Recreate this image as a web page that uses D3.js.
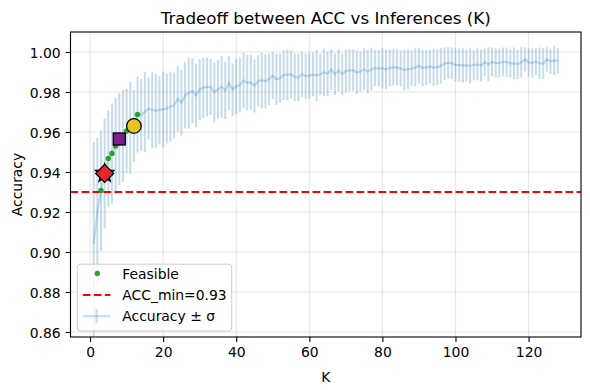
<!DOCTYPE html>
<html><head><meta charset="utf-8">
<script src="https://cdn.jsdelivr.net/npm/d3@7"></script>
<style>body{margin:0;background:#fff;} svg{display:block;font-family:"DejaVu Sans",sans-serif;}</style>
</head><body><svg id="c" width="590" height="390"></svg>
<script>
// ---- data ----
const kValues = d3.range(1, 129);
const meanAcc = [
0.904,0.920,0.9308,0.9393,0.9468,0.9493,0.953,0.9565,0.958,0.9605,
0.962,0.963,0.9688,0.9685,0.970,0.9718,0.971,0.9707,0.971,0.9713,
0.9718,0.9727,0.9733,0.9766,0.9746,0.9783,0.9796,0.9806,0.9783,0.9812,
0.9822,0.9825,0.9825,0.9798,0.9814,0.9826,0.9808,0.9845,0.9812,0.9829,
0.9835,0.9858,0.9846,0.9848,0.9830,0.9856,0.9858,0.9854,0.9864,0.9882,
0.9863,0.9870,0.9885,0.9887,0.9888,0.9874,0.9873,0.9889,0.9879,0.9881,
0.9887,0.9883,0.9889,0.9899,0.9891,0.9912,0.9889,0.9908,0.9889,0.9905,
0.9908,0.9909,0.9898,0.9902,0.9914,0.9902,0.9913,0.9920,0.9918,0.9918,
0.9914,0.9920,0.9923,0.9923,0.9917,0.9910,0.9914,0.9917,0.9923,0.9931,
0.9920,0.9923,0.9928,0.9922,0.9924,0.9931,0.9942,0.9946,0.9944,0.9935,
0.9935,0.9933,0.9933,0.9931,0.9935,0.9938,0.9933,0.9949,0.9938,0.9950,
0.9945,0.9945,0.9950,0.9950,0.9943,0.9944,0.9939,0.9948,0.9963,0.9948,
0.9945,0.9952,0.9944,0.9942,0.9963,0.9954,0.9958,0.9956];
const sigmaAcc = [
0.051,0.037,0.030,0.0275,0.024,0.025,0.024,0.023,0.023,0.021,
0.023,0.018,0.019,0.018,0.020,0.0155,0.019,0.0186,0.017,0.019,
0.0175,0.0175,0.0165,0.0164,0.0164,0.0164,0.0178,0.0163,0.016,0.0152,
0.0151,0.0148,0.014,0.0151,0.0146,0.0154,0.0143,0.0135,0.0132,0.0139,
0.0138,0.0139,0.0139,0.0137,0.0133,0.0129,0.0139,0.0136,0.0129,0.0118,
0.0128,0.0123,0.0125,0.0127,0.0119,0.0119,0.0118,0.0113,0.0114,0.0113,
0.011,0.0128,0.0104,0.0119,0.0111,0.0102,0.0104,0.0106,0.0104,0.0108,
0.0106,0.0104,0.0108,0.010,0.0104,0.0108,0.0106,0.009,0.0092,0.010,
0.0099,0.0093,0.0091,0.0091,0.009,0.0103,0.0099,0.009,0.0096,0.0088,
0.009,0.0088,0.0085,0.0092,0.0089,0.0088,0.0082,0.0078,0.0079,0.0083,
0.0083,0.0086,0.0081,0.0088,0.0075,0.0081,0.0081,0.0069,0.0086,0.0073,
0.0073,0.0073,0.0073,0.0073,0.0071,0.0079,0.0074,0.0076,0.0061,0.0071,
0.0073,0.0067,0.0079,0.0077,0.0061,0.0064,0.0073,0.0063];
const feasibleK = [3,4,5,6,7,8,9,10,11,12,13];
const accMin = 0.93;
const highlightK = [4, 8, 12];
const xTickValues = [0,20,40,60,80,100,120];
const yTickValues = [0.86,0.88,0.90,0.92,0.94,0.96,0.98,1.00];
const legendLabels = ["Feasible", "ACC_min=0.93", "Accuracy \u00b1 \u03c3"];

// ---- layout ----
const L = 70.5, R = 581, T = 32, B = 337;
const FS = 13.9;
const svg = d3.select("#c");
const x = d3.scaleLinear().domain([-5.35, 134.35]).range([L, R]);
const y = d3.scaleLinear().domain([0.8575, 1.010]).range([B, T]);
const pts = kValues.map((k,i)=>({k, m: meanAcc[i], s: sigmaAcc[i]}));
const byK = new Map(pts.map(p=>[p.k,p]));

svg.append("rect").attr("width",590).attr("height",390).attr("fill","#fff");
svg.append("defs").append("clipPath").attr("id","clip")
  .append("rect").attr("x",L).attr("y",T).attr("width",R-L).attr("height",B-T);

// grid
const grid = svg.append("g").attr("stroke","#b0b0b0").attr("stroke-opacity",0.3).attr("stroke-width",1.1);
grid.selectAll("line.gx").data(xTickValues).join("line")
  .attr("x1",d=>x(d)).attr("x2",d=>x(d)).attr("y1",T).attr("y2",B);
grid.selectAll("line.gy").data(yTickValues).join("line").attr("class","gy")
  .attr("x1",L).attr("x2",R).attr("y1",d=>y(d)).attr("y2",d=>y(d));

const plot = svg.append("g").attr("clip-path","url(#clip)");
const blue = "#1f77b4";
// error bars
plot.append("g").selectAll("line").data(pts).join("line")
  .attr("x1",d=>x(d.k)).attr("x2",d=>x(d.k))
  .attr("y1",d=>y(d.m-d.s)).attr("y2",d=>y(d.m+d.s))
  .attr("stroke",blue).attr("stroke-opacity",0.25).attr("stroke-width",2.1);
// mean line
plot.append("path").datum(pts)
  .attr("d", d3.line().x(d=>x(d.k)).y(d=>y(d.m)))
  .attr("fill","none").attr("stroke",blue).attr("stroke-opacity",0.25).attr("stroke-width",2.1);
// threshold
plot.append("line").attr("x1",L).attr("x2",R).attr("y1",y(accMin)).attr("y2",y(accMin))
  .attr("stroke","#ff0000").attr("stroke-width",2.1).attr("stroke-dasharray","7.7,3.3");
// feasible
plot.append("g").selectAll("circle").data(feasibleK.map(k=>byK.get(k))).join("circle")
  .attr("cx",d=>x(d.k)).attr("cy",d=>y(d.m)).attr("r",2.7).attr("fill","#2ca02c");

// highlighted markers
const hl = plot.append("g").attr("stroke","#000").attr("stroke-width",1.3).attr("stroke-linejoin","miter");
{
  const p = byK.get(highlightK[0]); const cx=x(p.k), cy=y(p.m);
  const star = d3.range(10).map(i=>{const r = i%2===0?9.6:4.0; const a = -Math.PI/2 + i*Math.PI/5; return [cx+r*Math.cos(a), cy+r*Math.sin(a)];});
  hl.append("polygon").attr("points",star.map(q=>q.join(",")).join(" ")).attr("fill","#e41a1c");
  const h=9;
  hl.append("polygon").attr("points",[[cx,cy-h],[cx+h,cy],[cx,cy+h],[cx-h,cy]].map(q=>q.join(",")).join(" ")).attr("fill","#e8252a");
}
{
  const p = byK.get(highlightK[1]); const cx=x(p.k), cy=y(p.m); const s=12;
  hl.append("rect").attr("x",cx-s/2).attr("y",cy-s/2).attr("width",s).attr("height",s).attr("fill","#7b1f8e");
}
{
  const p = byK.get(highlightK[2]); const cx=x(p.k), cy=y(p.m);
  hl.append("circle").attr("cx",cx).attr("cy",cy).attr("r",7.3).attr("fill","#e8c21e");
}

// axes
const xAxis = d3.axisBottom(x).tickValues(xTickValues).tickFormat(d3.format("d")).tickSize(4.9).tickPadding(4.9).tickSizeOuter(0);
const yAxis = d3.axisLeft(y).tickValues(yTickValues).tickFormat(d3.format(".2f")).tickSize(4.9).tickPadding(4.9).tickSizeOuter(0);
const gx = svg.append("g").attr("transform",`translate(0,${B})`).call(xAxis);
const gy = svg.append("g").attr("transform",`translate(${L},0)`).call(yAxis);
[gx,gy].forEach(g=>{
  g.select(".domain").remove();
  g.attr("font-family","DejaVu Sans, sans-serif").attr("font-size",FS);
  g.selectAll(".tick line").attr("stroke","#000").attr("stroke-width",1.1);
  g.selectAll(".tick text").attr("fill","#000");
});
gy.selectAll(".tick text").attr("dy","0.36em");
gx.selectAll(".tick text").attr("dy","0.76em");

// frame
svg.append("rect").attr("x",L).attr("y",T).attr("width",R-L).attr("height",B-T)
  .attr("fill","none").attr("stroke","#000").attr("stroke-width",1.1);

// labels
svg.append("text").attr("x",(L+R)/2).attr("y",24).attr("text-anchor","middle")
  .attr("font-size",16.7).text("Tradeoff between ACC vs Inferences (K)");
svg.append("text").attr("x",(L+R)/2).attr("y",382).attr("text-anchor","middle")
  .attr("font-size",FS).text("K");
svg.append("text").attr("transform",`translate(21.5,${(T+B)/2}) rotate(-90)`).attr("text-anchor","middle")
  .attr("font-size",FS).text("Accuracy");

// legend
const lg = svg.append("g");
lg.append("rect").attr("x",77.3).attr("y",264.2).attr("width",154.4).attr("height",66.8).attr("rx",3)
  .attr("fill","#fff").attr("fill-opacity",0.8).attr("stroke","#cccccc").attr("stroke-width",1);
const ly = [273.5, 295, 316.2];
lg.append("circle").attr("cx",97.3).attr("cy",ly[0]).attr("r",2.7).attr("fill","#2ca02c");
lg.append("line").attr("x1",82.8).attr("x2",110.5).attr("y1",ly[1]).attr("y2",ly[1])
  .attr("stroke","#ff0000").attr("stroke-width",2.1).attr("stroke-dasharray","7.7,3.3");
lg.append("line").attr("x1",82.8).attr("x2",110.5).attr("y1",ly[2]).attr("y2",ly[2])
  .attr("stroke",blue).attr("stroke-opacity",0.25).attr("stroke-width",2.1);
lg.append("line").attr("x1",96.6).attr("x2",96.6).attr("y1",ly[2]-7).attr("y2",ly[2]+7)
  .attr("stroke",blue).attr("stroke-opacity",0.25).attr("stroke-width",2.1);
lg.selectAll("text").data(legendLabels).join("text")
  .attr("x",122.3).attr("y",(d,i)=>ly[i]).attr("dy","0.36em").attr("font-size",FS).text(d=>d);
</script></body></html>
